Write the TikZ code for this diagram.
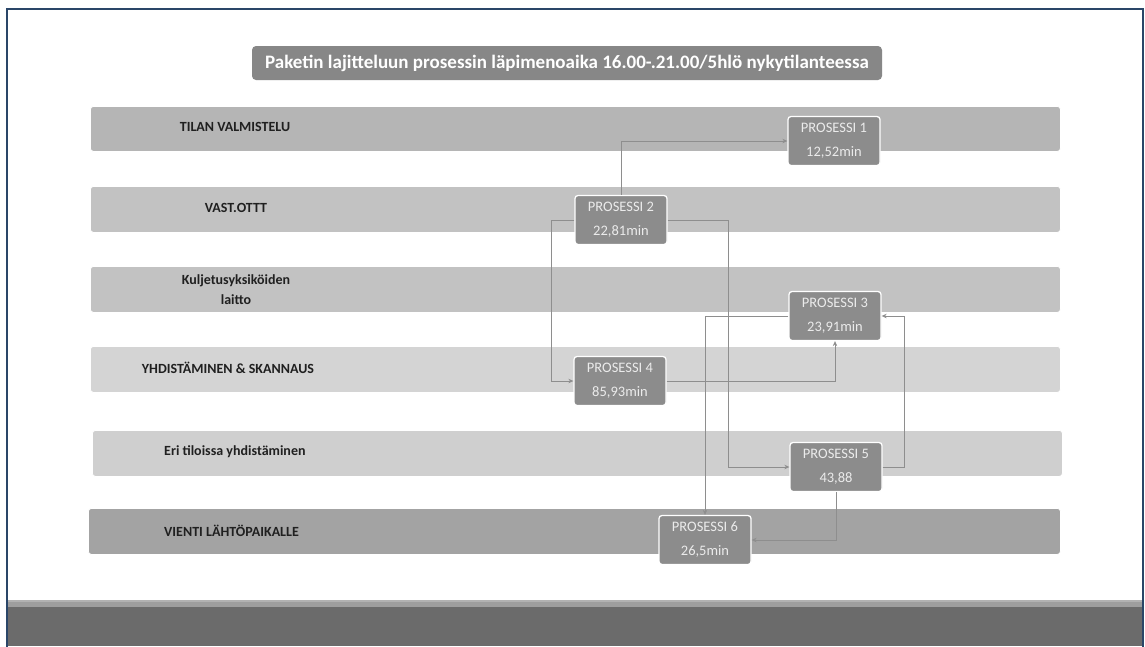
\documentclass[tikz,border=0pt]{standalone}
\usepackage{fontspec}
\setmainfont{Carlito}
\usetikzlibrary{arrows.meta}
\definecolor{frameblue}{HTML}{2A4668}
\definecolor{procfill}{HTML}{8C8C8C}
\definecolor{linkgray}{HTML}{8E8E8E}
\definecolor{lanetext}{HTML}{202020}
\tikzset{
  x=1pt, y=-1pt,
  lane/.style={draw=white, line width=0.8pt, rounded corners=3pt, inner sep=0pt, anchor=north west},
  lanelabel/.style={font=\bfseries\fontsize{14}{17}\selectfont, text=lanetext, align=center, inner sep=0pt},
  procbox/.style={draw=white, line width=1.3pt, fill=procfill, rounded corners=3pt,
    minimum width=92pt, minimum height=49pt, inner sep=0pt, align=center,
    text=white!92!black, font=\fontsize{14.5}{24}\selectfont},
  link/.style={draw=linkgray, line width=1pt, -{Stealth[length=5pt,width=4.5pt]}},
}
\begin{document}
\begin{tikzpicture}
\useasboundingbox (0,0) rectangle (1145,646);
\fill[white] (0,0) rectangle (1145,646);

% footer band
\fill[black!58] (8,600) rectangle (1142,646);
\fill[black!38] (8,600) rectangle (1142,607);
\fill[black!30] (8,600) rectangle (1142,602);

% outer frame
\draw[frameblue, line width=2pt] (7,700) -- (7,9) -- (1143,9) -- (1143,700);

% title
\node[fill=black!47, rounded corners=4pt, minimum width=630pt, minimum height=34pt, inner sep=0pt,
      text=white, font=\bfseries\fontsize{19}{22}\selectfont] (title) at (567,63)
  {Paketin lajitteluun prosessin läpimenoaika 16.00-.21.00/5hlö nykytilanteessa};

% swim lanes
\node[lane, fill=black!29, minimum width=970pt, minimum height=45pt] (lane1) at (90,106) {};
\node[lane, fill=black!24, minimum width=970pt, minimum height=46pt] (lane2) at (90,186) {};
\node[lane, fill=black!24, minimum width=970pt, minimum height=46pt] (lane3) at (90,266) {};
\node[lane, fill=black!17, minimum width=970pt, minimum height=46pt] (lane4) at (90,346) {};
\node[lane, fill=black!19, minimum width=970pt, minimum height=46pt] (lane5) at (92,430) {};
\node[lane, fill=black!36, minimum width=972pt, minimum height=46pt] (lane6) at (88,508) {};

\node[lanelabel] (lab1) at (235,127) {TILAN VALMISTELU};
\node[lanelabel] (lab2) at (236,208) {VAST.OTTT};
\node[lanelabel, font=\bfseries\fontsize{14}{20}\selectfont] (lab3) at (236,290) {Kuljetusyksiköiden\\laitto};
\node[lanelabel] (lab4) at (228,368) {YHDISTÄMINEN \& SKANNAUS};
\node[lanelabel, anchor=west] (lab5) at (164,452) {Eri tiloissa yhdistäminen};
\node[lanelabel, anchor=west] (lab6) at (164,531) {VIENTI LÄHTÖPAIKALLE};

% process boxes
\node[procbox] (p1) at (834,141) {PROSESSI 1\\12,52min};
\node[procbox] (p2) at (621,220) {PROSESSI 2\\22,81min};
\node[procbox] (p3) at (835,316) {PROSESSI 3\\23,91min};
\node[procbox] (p4) at (620,381) {PROSESSI 4\\85,93min};
\node[procbox] (p5) at (836,467) {PROSESSI 5\\43,88};
\node[procbox] (p6) at (705,540) {PROSESSI 6\\26,5min};

% connectors
\draw[link] (p2.north) |- (p1.west);
\draw[link] (p2.west) -- ++(-23,0) |- (p4.west);
\draw[link] (p2.east) -- ++(61,0) |- (p5.west);
\draw[link] (p4.east) -| (p3.south);
\draw[link] (p5.east) -- ++(22,0) |- (p3.east);
\draw[link] (p3.west) -| (p6.north);
\draw[link] (p5.south) |- (p6.east);
\end{tikzpicture}
\end{document}
